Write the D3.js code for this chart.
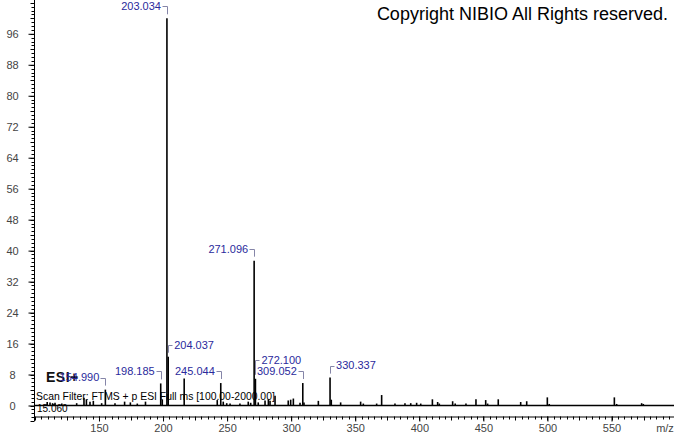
<!doctype html>
<html lang="en">
<head>
    <meta charset="UTF-8">
    <title>ESI+ mass spectrum</title>
    <style>
        body { margin: 0; background: #fff; }
        svg { display: block; font-family: Arial, "Liberation Sans", sans-serif; }
    </style>
</head>
<body>
<script src="https://cdn.jsdelivr.net/npm/d3@7"></script>
<script>

    // peaks (m/z, relative abundance %)
    const peakMz = [
        109.6, 111.8, 113.8, 115.7, 121.0, 132.6, 138.3, 140.2, 143.0, 145.6,
        152.1, 154.990, 162.5, 170.0, 174.5, 179.9, 186.3, 198.185, 199.4, 203.034,
        204.037, 216.5, 242.3, 245.044, 247.0, 249.7, 252.3, 260.0, 266.5, 268.4,
        271.096, 272.100, 274.3, 279.6, 282.2, 283.5, 287.4, 297.7, 299.6, 301.7,
        306.9, 309.052, 310.0, 321.2, 330.337, 331.3, 338.6, 354.2, 356.3, 366.7,
        370.6, 381.0, 388.8, 393.3, 397.9, 401.1, 410.2, 414.3, 415.6, 426.0,
        428.0, 436.4, 444.2, 451.8, 453.3, 461.6, 479.1, 483.8, 499.9, 501.4,
        552.2, 554.0, 573.5, 574.8
    ]
    const peakIntensity = [
        0.9, 0.8, 0.6, 0.7, 0.5, 0.6, 2.0, 1.6, 1.0, 1.2,
        0.6, 4.1, 0.6, 1.0, 0.8, 0.5, 1.0, 5.7, 1.6, 100,
        12.6, 7.0, 1.4, 5.8, 1.0, 0.6, 0.5, 0.5, 1.0, 0.7,
        37.4, 6.9, 0.8, 1.3, 1.6, 1.2, 2.5, 1.3, 1.5, 1.8,
        0.7, 5.8, 0.8, 1.2, 7.2, 1.5, 0.8, 1.0, 0.5, 0.5,
        2.7, 0.5, 0.6, 0.6, 0.7, 0.5, 1.6, 0.9, 0.5, 1.1,
        0.5, 0.5, 1.6, 1.4, 0.5, 1.6, 0.9, 1.1, 2.1, 0.4,
        2.1, 0.4, 0.6, 0.4
    ]

    // labelled peaks
    const labelText = ['154.990', '198.185', '203.034', '204.037', '245.044',
                       '271.096', '272.100', '309.052', '330.337']
    const labelSide = ['left', 'left', 'left', 'right', 'left',
                       'left', 'right', 'left', 'right']
    // extra lift (px) where the label was pushed up to avoid a neighbour
    const labelLift = [0, 0, 0, 0, 0, 0, 7, 0, 0]

    const yTicks = d3.range(0, 97, 8)
    const xTicks = d3.range(150, 551, 50)

    const width = 674
    const height = 434

    const svg = d3.select('body')
        .append('svg')
        .attr('width', width)
        .attr('height', height)

    const x = d3.scaleLinear().domain([100, 600]).range([34.9, 675.6])
    const y = d3.scaleLinear().domain([0, 100]).range([405.5, 18.3])

    const peaks = peakMz.map((mz, i) => ({mz: mz, v: peakIntensity[i]}))

    // y axis
    const yAxisG = svg.append('g')
        .attr('transform', 'translate(34.5, 0)')

    yAxisG.append('line')
        .attr('x1', 0).attr('x2', 0)
        .attr('y1', 0).attr('y2', y(-4))
        .attr('stroke', '#000')

    yAxisG.selectAll('.minor')
        .data(d3.range(-4, 105, 1))
        .enter()
        .append('line')
        .attr('class', 'minor')
        .attr('x1', d => d % 4 === 0 ? -4 : -3)
        .attr('x2', 0)
        .attr('y1', d => Math.round(y(d)) + 0.5)
        .attr('y2', d => Math.round(y(d)) + 0.5)
        .attr('stroke', '#000')

    const yAxis = d3.axisLeft(y)
        .tickValues(yTicks)
        .tickSize(6)
        .tickSizeOuter(0)
        .tickFormat(d3.format('d'))

    const yAxisLabels = yAxisG.append('g').call(yAxis)
    yAxisLabels.select('.domain').remove()
    yAxisLabels.selectAll('line').attr('stroke', '#000')
    yAxisLabels.selectAll('text')
        .attr('x', -22)
        .attr('text-anchor', 'middle')
        .attr('fill', '#444')
        .attr('font-size', 11)
        .attr('font-family', 'Arial, "Liberation Sans", sans-serif')

    // x axis
    const xAxisG = svg.append('g')
        .attr('transform', 'translate(0, 416.5)')

    xAxisG.selectAll('.minor')
        .data(d3.range(100, 601, 5))
        .enter()
        .append('line')
        .attr('class', 'minor')
        .attr('x1', d => Math.round(x(d)) + 0.5)
        .attr('x2', d => Math.round(x(d)) + 0.5)
        .attr('y1', 0)
        .attr('y2', d => d % 25 === 0 ? 4 : 3)
        .attr('stroke', '#000')

    const xAxis = d3.axisBottom(x)
        .tickValues(xTicks)
        .tickSize(5)
        .tickSizeOuter(0)

    const xAxisLabels = xAxisG.append('g').call(xAxis)
    xAxisLabels.select('.domain').attr('stroke', '#000')
    xAxisLabels.selectAll('line').attr('stroke', '#000')
    xAxisLabels.selectAll('text')
        .attr('fill', '#444')
        .attr('font-size', 11)
        .attr('font-family', 'Arial, "Liberation Sans", sans-serif')

    svg.append('text')
        .attr('x', 665)
        .attr('y', 432)
        .attr('text-anchor', 'middle')
        .attr('fill', '#444')
        .attr('font-size', 11)
        .text('m/z')

    // baseline of the spectrum
    svg.append('line')
        .attr('x1', 34)
        .attr('x2', width)
        .attr('y1', y(0))
        .attr('y2', y(0))
        .attr('stroke', '#000')
        .attr('stroke-width', 1.5)

    // stick peaks
    svg.selectAll('.peak')
        .data(peaks)
        .enter()
        .append('line')
        .attr('class', 'peak')
        .attr('x1', d => x(d.mz))
        .attr('x2', d => x(d.mz))
        .attr('y1', y(0))
        .attr('y2', d => y(d.v))
        .attr('stroke', '#000')
        .attr('stroke-width', 1.6)

    // texts in the plot
    svg.append('text')
        .attr('x', 668)
        .attr('y', 20)
        .attr('text-anchor', 'end')
        .attr('font-size', 18)
        .attr('fill', '#000')
        .text('Copyright NIBIO All Rights reserved.')

    svg.append('text')
        .attr('x', 46)
        .attr('y', 382)
        .attr('font-size', 14)
        .attr('font-weight', 'bold')
        .attr('letter-spacing', 0.5)
        .attr('fill', '#111')
        .text('ESI+')

    svg.append('text')
        .attr('x', 36)
        .attr('y', 400)
        .attr('font-size', 10.4)
        .attr('fill', '#000')
        .text('Scan Filter: FTMS + p ESI Full ms [100.00-2000.00]')

    svg.append('text')
        .attr('x', 37)
        .attr('y', 412)
        .attr('font-size', 10)
        .attr('fill', '#000')
        .text('15.060')

    // peak labels with bracket connectors
    const labels = labelText.map((t, i) => {
        const mz = +t
        const p = peaks.find(d => d.mz === mz)
        return {text: t, mz: mz, v: p.v, side: labelSide[i], lift: labelLift[i]}
    })

    const labelG = svg.selectAll('.label')
        .data(labels)
        .enter()
        .append('g')
        .attr('class', 'label')

    labelG.append('path')
        .attr('fill', 'none')
        .attr('stroke', '#8585a8')
        .attr('stroke-width', 1)
        .attr('d', d => {
            const px = Math.round(x(d.mz)) + 0.5
            const top = y(d.v)
            const ly = Math.round(top - 12 - d.lift) + 0.5
            const hx = d.side === 'left' ? px - 5 : px + 4
            return `M${hx},${ly}H${px}V${top - 4}`
        })

    labelG.append('text')
        .attr('x', d => d.side === 'left' ? x(d.mz) - 6 : x(d.mz) + 6)
        .attr('y', d => y(d.v) - 12 - d.lift)
        .attr('dy', '0.35em')
        .attr('text-anchor', d => d.side === 'left' ? 'end' : 'start')
        .attr('font-size', 11)
        .attr('fill', '#2a2a9c')
        .text(d => d.text)

</script>
</body>
</html>
